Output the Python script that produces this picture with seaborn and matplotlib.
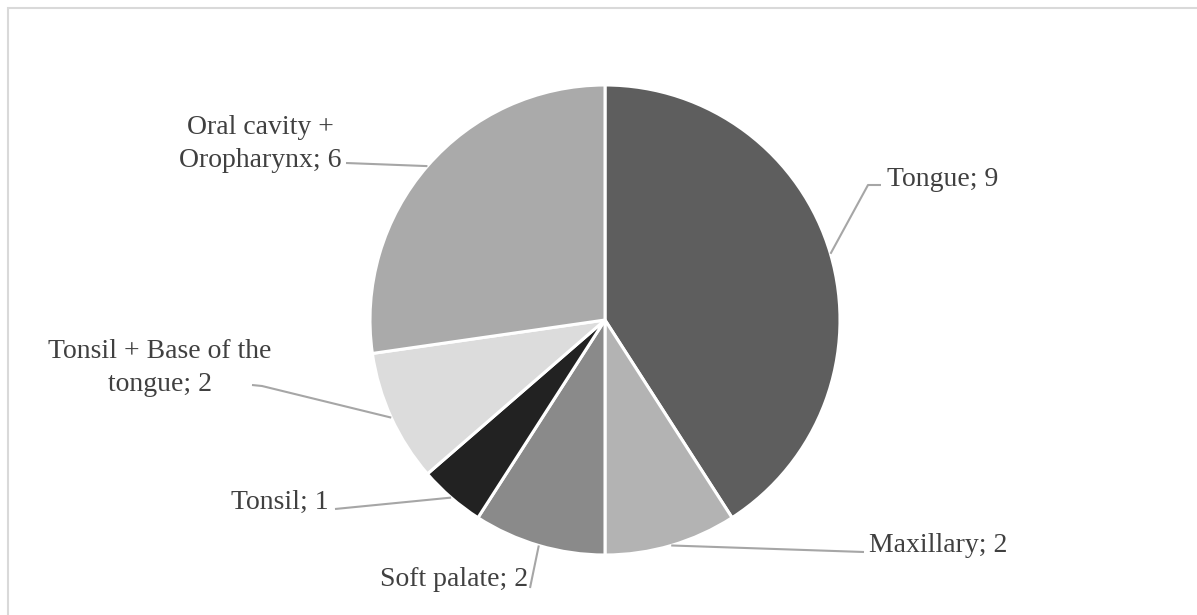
import numpy as np
import matplotlib
matplotlib.use("Agg")
import matplotlib.pyplot as plt
import seaborn as sns

# data
sites = ["Tongue", "Maxillary", "Soft palate", "Tonsil",
         "Tonsil + Base of the\ntongue", "Oral cavity +\nOropharynx"]
counts = [9, 2, 2, 1, 2, 6]
colors = ["#5e5e5e", "#b3b3b3", "#8a8a8a", "#222222", "#dcdcdc", "#aaaaaa"]

W, H = 1197, 615

# label anchors in pixel coords (x, y, ha) and leader elbow points
label_pos = [(887, 179, "left"), (869, 545, "left"), (528, 580, "right"),
             (329, 502, "right"), (160, 368, "center"), (260, 144, "center")]
elbows = [[(868, 185), (881, 185)],
          [(864, 552)],
          [(530, 588)],
          [(335, 509)],
          [(262, 386), (252, 385)],
          [(346, 163)]]

sns.set_theme(style="white")
plt.rcParams["font.family"] = ["Liberation Serif", "DejaVu Serif"]

fig = plt.figure(figsize=(W / 100, H / 100), dpi=100)
ax = fig.add_axes([0, 0, 1, 1])

# light frame (only top and left edges are inside the picture)
fig.patches.append(plt.Rectangle((8 / W, -0.1), 2, 1.1 - 8 / H, transform=fig.transFigure,
                                 fill=False, edgecolor="#d9d9d9", lw=1.5))

cx, cy, r = 605, H - 320, 235
wedges, _ = ax.pie(counts, colors=colors, startangle=90, counterclock=False,
                   center=(cx, cy), radius=r, frame=True,
                   wedgeprops=dict(edgecolor="white", linewidth=2.2))
ax.set_xlim(0, W)
ax.set_ylim(0, H)
ax.set_aspect("equal")
ax.axis("off")

for w, name, val, (tx, ty, ha), elb in zip(wedges, sites, counts, label_pos, elbows):
    mid = np.deg2rad((w.theta1 + w.theta2) / 2)
    px, py = cx + r * np.cos(mid), cy + r * np.sin(mid)
    xs = [px] + [e[0] for e in elb]
    ys = [py] + [H - e[1] for e in elb]
    ax.plot(xs, ys, color="#a6a6a6", lw=1.5, solid_capstyle="butt")
    ax.text(tx, H - ty, f"{name}; {val}", ha=ha, va="center", fontsize=20,
            color="#404040", linespacing=1.42, multialignment="center")

fig.savefig("out.png", dpi=100)
